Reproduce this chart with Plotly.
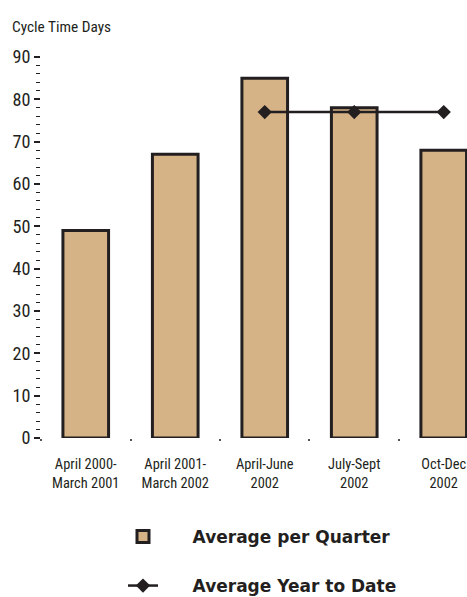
import subprocess
import plotly.graph_objects as go

categories = ["April 2000-<br>March 2001", "April 2001-<br>March 2002",
              "April-June<br>2002", "July-Sept<br>2002", "Oct-Dec<br>2002"]
avg_per_quarter = [49, 67, 85, 78, 68]
ytd_categories = ["April-June<br>2002", "July-Sept<br>2002", "Oct-Dec<br>2002"]
avg_year_to_date = [77, 77, 77]

DARK = "#231F20"
TAN = "#D5B387"
NB = "\u00a0"

# pick the narrowest installed sans family (width factor relative to Arial)
try:
    installed = subprocess.run(["fc-list", ":", "family"], capture_output=True,
                               text=True, timeout=10).stdout
except Exception:
    installed = ""
candidates = [("Liberation Sans Narrow", 0.82), ("Roboto Condensed", 0.88),
              ("Noto Sans Condensed", 0.88), ("DejaVu Sans Condensed", 0.97)]
FONT, factor = "Liberation Sans", 1.0
for fam, fct in candidates:
    if fam in installed:
        FONT, factor = fam, fct
        break

title_size = min(16, 13.5 / factor)
cat_size = min(17, 12.7 / factor)
tick_size = min(19, 16 / factor)

fig = go.Figure()
fig.add_trace(go.Bar(
    x=categories, y=avg_per_quarter, width=0.51,
    marker=dict(color=TAN, line=dict(color=DARK, width=3)),
    name=NB * 5 + "Average per Quarter", legend="legend",
))
fig.add_trace(go.Scatter(
    x=ytd_categories, y=avg_year_to_date, mode="lines+markers",
    line=dict(color=DARK, width=2.5),
    marker=dict(symbol="diamond", size=11, color=DARK),
    name=NB * 5 + "Average Year to Date", legend="legend2",
))

legend_font = dict(family="DejaVu Sans", size=17, weight="bold", color=DARK)
fig.update_layout(
    width=467, height=597,
    margin=dict(l=41, r=0, t=57, b=159, autoexpand=False),
    paper_bgcolor="white", plot_bgcolor="white",
    title=dict(text="Cycle Time Days", x=12 / 467, xref="container", xanchor="left",
               y=1 - 27 / 597, yref="container", yanchor="middle",
               font=dict(family=FONT, size=title_size, color=DARK)),
    xaxis=dict(type="category", range=[-0.5, 4.26], tickson="boundaries",
               ticks="outside", ticklen=2, tickwidth=2, tickcolor="#555",
               showline=False, showgrid=False, zeroline=False, automargin=False,
               tickangle=0, ticklabelstandoff=16,
               tickfont=dict(family=FONT, size=cat_size, color=DARK)),
    yaxis=dict(range=[0, 90], dtick=10, tick0=0, ticks="outside", ticklen=6,
               tickwidth=1.5, tickcolor=DARK, showline=False, showgrid=False,
               zeroline=False, automargin=False,
               minor=dict(dtick=2, ticks="outside", ticklen=4, tickwidth=1, tickcolor=DARK),
               tickfont=dict(family=FONT, size=tick_size, color=DARK)),
    showlegend=True,
    legend=dict(x=123 / 467, xref="container", xanchor="left",
                y=1 - 537 / 597, yref="container", yanchor="middle",
                font=legend_font, bgcolor="rgba(0,0,0,0)"),
    legend2=dict(x=123 / 467, xref="container", xanchor="left",
                 y=1 - 586 / 597, yref="container", yanchor="middle",
                 font=legend_font, bgcolor="rgba(0,0,0,0)"),
)

fig.write_html("out.html")
